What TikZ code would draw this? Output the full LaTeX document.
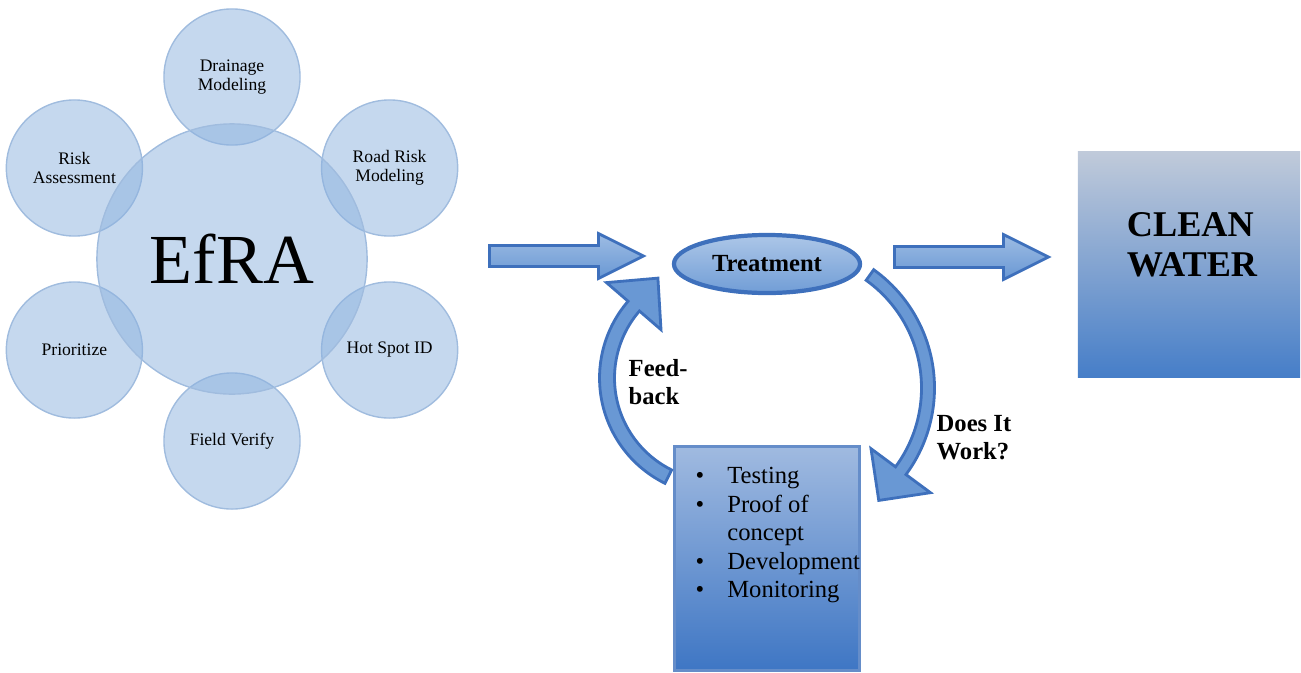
\documentclass[tikz,border=0pt]{standalone}
\usepackage{fontspec}
\setmainfont{Liberation Serif}
\usetikzlibrary{shapes.geometric,shapes.arrows,calc,positioning}

\definecolor{bubble}{RGB}{140,178,222}
\definecolor{bubbleline}{RGB}{160,188,222}
\definecolor{arrowfill}{RGB}{105,152,212}
\definecolor{arrowline}{RGB}{62,112,188}
\definecolor{boxtop}{RGB}{160,186,224}
\definecolor{boxbot}{RGB}{62,118,196}
\definecolor{cleantop}{RGB}{192,202,218}
\definecolor{cleanbot}{RGB}{70,126,200}

\tikzset{
  bubble/.style={circle, fill=bubble, fill opacity=0.5, draw=bubbleline, text opacity=1,
    inner sep=0pt, align=center},
  sat/.style={bubble, minimum size=1.36cm, font=\fontsize{5}{5.3}\selectfont},
  blockarrow/.style={single arrow, draw=arrowline, line width=0.8pt,
    top color=arrowfill!65!white, bottom color=arrowfill,
    minimum height=1.54cm, minimum width=0.42cm, single arrow head extend=0.12cm,
    single arrow tip angle=53, inner xsep=0pt, inner ysep=0.09cm, anchor=tail},
  curvearrow/.style={draw=arrowline, line width=0.8pt, fill=arrowfill},
  lbl/.style={font=\fontsize{7}{8}\selectfont\bfseries, align=left, inner sep=0pt},
}

\begin{document}
\begin{tikzpicture}[x=0.01cm, y=0.01cm]

  \useasboundingbox (0,0) rectangle (1301,672);

  % EfRA cluster
  \coordinate (hub) at (232,413);
  \node[sat] (drain) at ($(hub)+(90:182)$)  {Drainage\\Modeling};
  \node[sat] (road)  at ($(hub)+(30:182)$)  {Road Risk\\Modeling};
  \node[sat] (hot)   at ($(hub)+(-30:182)$) {Hot Spot ID};
  \node[sat] (field) at ($(hub)+(-90:182)$) {Field Verify};
  \node[sat] (prio)  at ($(hub)+(210:182)$) {Prioritize};
  \node[sat] (risk)  at ($(hub)+(150:182)$) {Risk\\Assessment};
  \node[bubble, minimum size=2.7cm, font=\fontsize{20}{24}\selectfont] (efra) at (hub) {EfRA};

  % treatment loop
  \node[blockarrow] (inarrow) at (488,416) {};
  \node[ellipse, draw=arrowline, line width=1.2pt, top color=arrowfill!55!white,
    bottom color=arrowfill!95!white, minimum width=1.86cm, minimum height=0.58cm,
    inner sep=0pt, font=\fontsize{7}{8}\selectfont\bfseries] (treat) at (767,408) {Treatment};
  \node[blockarrow] (outarrow) at (893,415) {};

  \node[rectangle, top color=cleantop, bottom color=cleanbot, minimum width=2.22cm,
    minimum height=2.25cm, inner sep=0pt] (clean) at (1189,407.5) {};
  \node[align=left, inner sep=0pt, font=\fontsize{10.3}{11.5}\selectfont\bfseries]
    (cleantxt) at (1192,427) {CLEAN\\WATER};

  \node[rectangle, draw=arrowline!80!white, line width=0.8pt, top color=boxtop,
    bottom color=boxbot, minimum width=1.85cm, minimum height=2.24cm, inner sep=0pt,
    anchor=south west] (tests) at (673,0) {};
  \node[anchor=west, inner sep=0pt, font=\fontsize{7}{8.1}\selectfont] (list) at (695,137) {%
    \begin{tabular}{@{}p{9pt}@{}l@{}}
      \textbullet & Testing\\
      \textbullet & Proof of\\
                  & concept\\
      \textbullet & Development\\
      \textbullet & Monitoring
    \end{tabular}};

  % curved arrows
  \coordinate (fbc) at (717,294);
  \coordinate (dwc) at (789,284);

  \draw[curvearrow] ($(fbc)+(243.7:117.5)$) arc[start angle=243.7, end angle=139.2, radius=117.5]
    -- ($(fbc)+(139.2:146)$) -- ($(fbc)+(139.2:110)+(49.2:37)$) -- ($(fbc)+(139.2:74)$)
    -- ($(fbc)+(139.2:102.5)$) arc[start angle=139.2, end angle=243.7, radius=102.5] -- cycle; % tests->treat

  \draw[curvearrow] ($(dwc)+(54.4:145.5)$) arc[start angle=54.4, end angle=-36.5, radius=145.5]
    -- ($(dwc)+(-36.5:176)$) -- ($(dwc)+(-36.5:139)+(-126.5:37)$) -- ($(dwc)+(-36.5:102)$)
    -- ($(dwc)+(-36.5:132.5)$) arc[start angle=-36.5, end angle=54.4, radius=132.5] -- cycle; % treat->tests

  \node[lbl, anchor=west] (fb) at (628,290) {Feed-\\back};
  \node[lbl, anchor=west] (dw) at (936,234) {Does It\\Work?};

\end{tikzpicture}
\end{document}
